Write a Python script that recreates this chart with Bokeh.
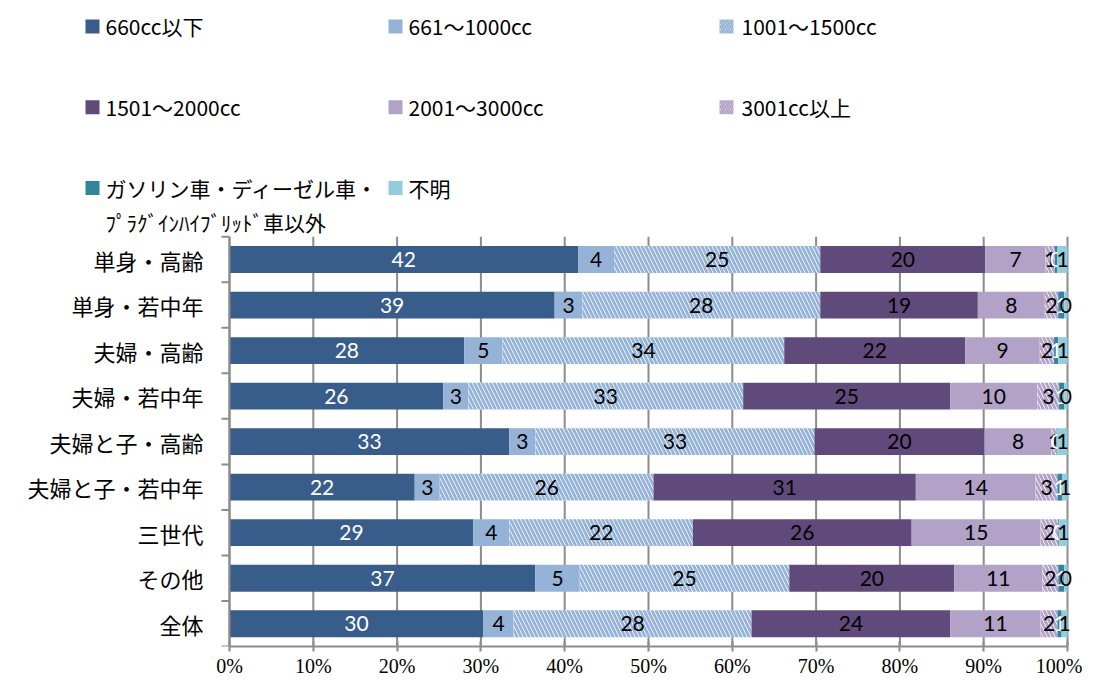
import math
import numpy as np
from bokeh.plotting import figure
from bokeh.models import Range1d, FixedTicker
from bokeh.core.properties import value
from bokeh.embed import file_html
from bokeh.resources import INLINE

# ---------------- data ----------------
categories = ["単身・高齢", "単身・若中年", "夫婦・高齢", "夫婦・若中年", "夫婦と子・高齢",
              "夫婦と子・若中年", "三世代", "その他", "全体"]
series_names = ["660cc以下", "661～1000cc", "1001～1500cc", "1501～2000cc", "2001～3000cc",
                "3001cc以上", "ガソリン車・ディーゼル車・\nﾌﾟﾗｸﾞｲﾝﾊｲﾌﾞﾘｯﾄﾞ車以外", "不明"]
s660 = [41.6, 38.8, 28.0, 25.5, 33.4, 22.1, 29.1, 36.5, 30.3]
s661_1000 = [4.3, 3.3, 4.6, 3.0, 3.1, 3.0, 4.3, 5.3, 3.6]
s1001_1500 = [24.6, 28.4, 33.6, 32.8, 33.3, 25.5, 21.9, 25.0, 28.4]
s1501_2000 = [19.7, 18.8, 21.6, 24.7, 20.3, 31.3, 26.1, 19.7, 23.7]
s2001_3000 = [7.2, 8.0, 8.9, 10.4, 8.0, 14.3, 15.4, 10.5, 10.8]
s3001 = [1.1, 1.6, 1.7, 2.6, 0.6, 2.6, 2.1, 1.9, 2.0]
s_other = [0.3, 0.7, 0.5, 0.6, 0.1, 0.6, 0.1, 0.7, 0.5]
s_unknown = [1.2, 0.4, 1.1, 0.4, 1.2, 0.6, 1.0, 0.4, 0.7]
x_ticks = [0, 10, 20, 30, 40, 50, 60, 70, 80, 90, 100]
x_tick_labels = ["0%", "10%", "20%", "30%", "40%", "50%", "60%", "70%", "80%", "90%", "100%"]

series = [s660, s661_1000, s1001_1500, s1501_2000, s2001_3000, s3001, s_other, s_unknown]

# ---------------- styles / layout ----------------
fills = ["#385D8A", "#95B3D7", "white", "#604A7B", "#B3A2C7", "white", "#31859C", "#93CDDD"]
hatches = [None, None, "#95B3D7", None, None, "#B3A2C7", None, None]
label_colors = ["white", "black", "black", "black", "black", "black", "white", "black"]
JP = value("Noto Sans CJK JP")
GRAY = "#8C8C8C"

W, H = 1082, 679
PX_L, PX_R = 229.0, 1067.0        # pixel positions of 0% and 100%
PX_TOP, PX_BOT = 237.0, 648.0     # pixel top of first category / x-axis
n = len(categories)
px_per_x = (PX_R - PX_L) / 100.0
pitch = (PX_BOT - PX_TOP) / n


def xd(px):
    return (px - PX_L) / px_per_x


def yd(py):
    return (n - 0.5) - (py - PX_TOP) / pitch


p = figure(width=W, height=H,
           x_range=Range1d(xd(0), xd(W)), y_range=Range1d(-0.5, yd(0)),
           output_backend="svg", toolbar_location=None, y_axis_type=None,
           min_border_left=0, min_border_right=0, min_border_top=0,
           min_border_bottom=int(H - PX_BOT))
p.outline_line_color = None
p.xgrid.visible = False
p.ygrid.visible = False

ypos = np.arange(n)[::-1].astype(float)  # first category on top

# vertical grid lines (only over the bar area)
p.segment(x0=x_ticks, y0=-0.5, x1=x_ticks, y1=n - 0.5, line_color=GRAY, line_width=2)

left = np.zeros(n)
for i, vals in enumerate(series):
    v = np.array(vals)
    right = left + v
    kw = dict(fill_color=fills[i], line_color=None)
    if hatches[i]:
        kw.update(hatch_pattern="\\", hatch_color=hatches[i], hatch_scale=8, hatch_weight=2.8)
    p.hbar(y=ypos, left=left, right=right, height=0.59, **kw)
    labels = [str(int(math.floor(x + 0.5))) for x in vals]
    p.text(x=(left + right) / 2, y=ypos, text=labels, text_align="center",
           text_baseline="middle", text_font=value("Lato"), text_font_size="21px",
           text_color=label_colors[i])
    left = right

# category axis (line, boundary ticks, labels)
p.segment(x0=[0], y0=[-0.5], x1=[0], y1=[n - 0.5], line_color=GRAY, line_width=2)
p.ray(x=0, y=[k - 0.5 for k in range(n + 1)], length=8, length_units="screen",
      angle=math.pi, line_color=GRAY, line_width=2)
p.text(x=0, y=ypos, text=categories, x_offset=-26, text_align="right",
       text_baseline="middle", text_font=JP, text_font_size="22px", text_color="black")

# value axis
xa = p.xaxis[0]
xa.bounds = (0, 100)
xa.ticker = FixedTicker(ticks=x_ticks)
xa.major_label_overrides = {float(t): l for t, l in zip(x_ticks, x_tick_labels)}
xa.axis_line_color = GRAY
xa.axis_line_width = 2
xa.major_tick_line_color = GRAY
xa.major_tick_line_width = 2
xa.major_tick_in = 5
xa.major_tick_out = 5
xa.minor_tick_line_color = None
xa.major_label_standoff = 3
xa.major_label_text_font = "Liberation Sans Narrow"
xa.major_label_text_font_size = "20px"
xa.major_label_text_color = "black"

# legend (positions in pixels of the picture)
sq_x = [92, 395, 726]
tx_x = [105, 408, 741]
row_y = [26, 107, 188]
line_gap = 34
for i, name in enumerate(series_names):
    r, c = divmod(i, 3)
    kw = dict(fill_color=fills[i], line_color=None)
    if hatches[i]:
        kw.update(hatch_pattern="\\", hatch_color=hatches[i], hatch_scale=5, hatch_weight=2)
    p.rect(x=[xd(sq_x[c])], y=[yd(row_y[r])], width=14, height=14,
           width_units="screen", height_units="screen", **kw)
    for k, line in enumerate(name.split("\n")):
        p.text(x=[xd(tx_x[c])], y=[yd(row_y[r] + k * line_gap)], text=[line],
               text_font=JP, text_font_size="21px", text_baseline="middle",
               text_align="left", text_color="black")

open("out.html", "w").write(file_html(p, INLINE))
